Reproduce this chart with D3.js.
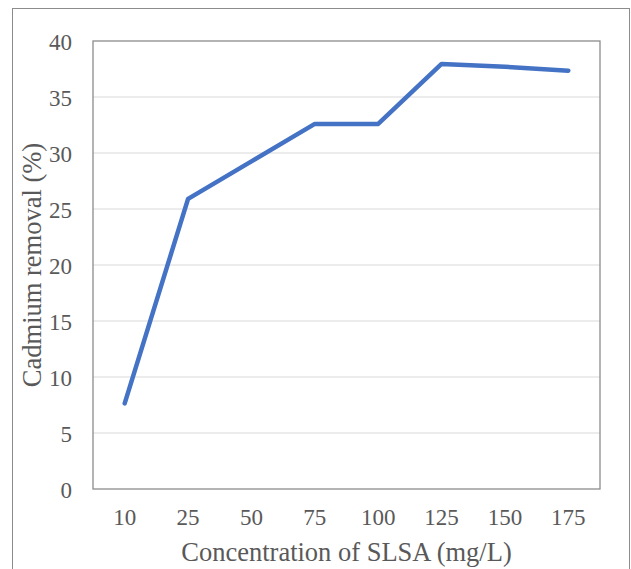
<!DOCTYPE html>
<html>
<head>
<meta charset="utf-8">
<script src="https://cdn.jsdelivr.net/npm/d3@7"></script>
<style>
  body { margin: 0; background: #fff; }
</style>
</head>
<body>
<div id="chart"></div>
<script>
// data
var categories = ["10", "25", "50", "75", "100", "125", "150", "175"];
var removal = [7.65, 25.9, 29.25, 32.6, 32.6, 37.95, 37.7, 37.35];
var yTicks = [0, 5, 10, 15, 20, 25, 30, 35, 40];

var FONT = "Liberation Serif";

var W = 631, H = 569;
var margin = {top: 41, right: 31, bottom: 80, left: 93},
    width = W - margin.left - margin.right,
    height = H - margin.top - margin.bottom;

var svg = d3.select("#chart")
  .append("svg")
    .attr("width", W)
    .attr("height", H)
    .attr("font-family", FONT);

// outer chart border
svg.append("rect")
    .attr("x", 12.5).attr("y", 8.5)
    .attr("width", 617).attr("height", 580)
    .attr("fill", "none")
    .attr("stroke", "#8c8c8c");

var g = svg.append("g")
    .attr("transform", "translate(" + margin.left + "," + margin.top + ")");

var x = d3.scaleBand()
    .domain(categories)
    .range([0, width]);

var y = d3.scaleLinear()
    .domain([0, 40])
    .range([height, 0]);

// gridlines
g.append("g")
  .selectAll("line")
  .data(yTicks.filter(function(d) { return d > 0 && d < 40; }))
  .enter().append("line")
    .attr("x1", 0).attr("x2", width)
    .attr("y1", function(d) { return y(d); })
    .attr("y2", function(d) { return y(d); })
    .attr("stroke", "#d9d9d9")
    .attr("stroke-width", 1.2);

// plot area border
g.append("rect")
    .attr("x", 0).attr("y", 0)
    .attr("width", width).attr("height", height)
    .attr("fill", "none")
    .attr("stroke", "#8c8c8c")
    .attr("stroke-width", 1.3);

// Y axis
var yAxis = g.append("g")
    .call(d3.axisLeft(y).tickValues(yTicks).tickSize(0).tickPadding(21));
yAxis.select(".domain").remove();
yAxis.attr("font-family", FONT).attr("font-size", 23);
yAxis.selectAll("text")
    .attr("font-family", FONT)
    .attr("dy", "0.36em")
    .attr("fill", "#595959");

// X axis
var xAxis = g.append("g")
    .attr("transform", "translate(0," + height + ")")
    .call(d3.axisBottom(x).tickSize(0).tickPadding(20));
xAxis.select(".domain").remove();
xAxis.attr("font-family", FONT).attr("font-size", 23);
xAxis.selectAll("text")
    .attr("font-family", FONT)
    .attr("fill", "#595959");

// line
var line = d3.line()
    .x(function(d, i) { return x(categories[i]) + x.bandwidth() / 2; })
    .y(function(d) { return y(d); });

g.append("path")
    .datum(removal)
    .attr("fill", "none")
    .attr("stroke", "#4472c4")
    .attr("stroke-width", 4.5)
    .attr("stroke-linejoin", "round")
    .attr("stroke-linecap", "round")
    .attr("d", line);

// axis titles
svg.append("text")
    .attr("x", margin.left + width / 2)
    .attr("y", 561)
    .attr("text-anchor", "middle")
    .attr("font-family", FONT)
    .attr("font-size", 26.5)
    .attr("fill", "#595959")
    .text("Concentration of SLSA (mg/L)");

svg.append("text")
    .attr("transform", "translate(41," + (margin.top + height / 2) + ") rotate(-90)")
    .attr("text-anchor", "middle")
    .attr("font-family", FONT)
    .attr("font-size", 26.5)
    .attr("fill", "#595959")
    .text("Cadmium removal (%)");
</script>
</body>
</html>
